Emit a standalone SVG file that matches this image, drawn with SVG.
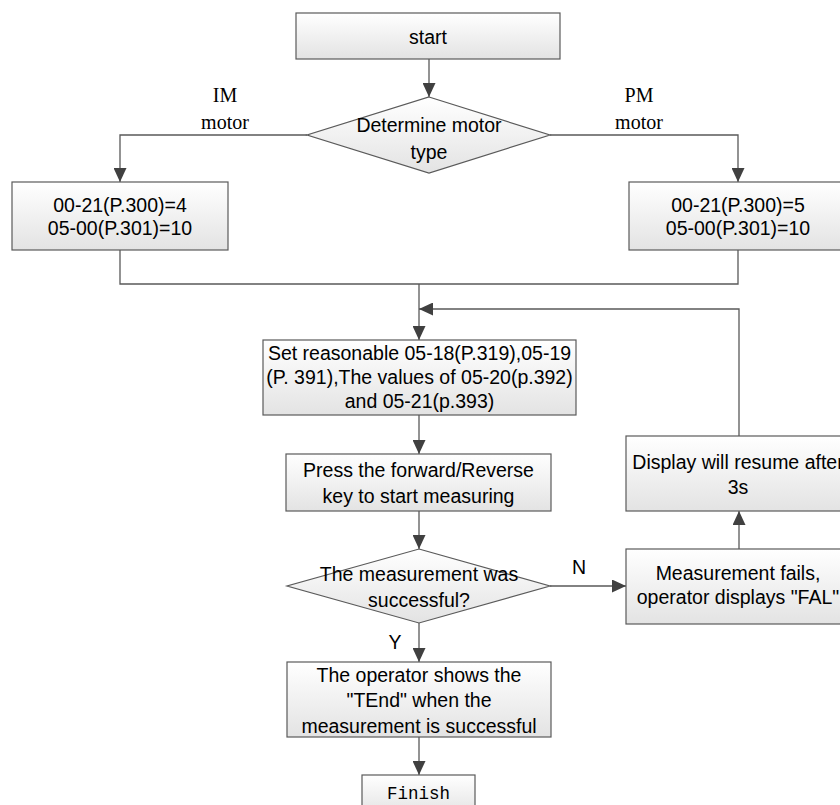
<svg xmlns="http://www.w3.org/2000/svg" width="840" height="805" viewBox="0 0 840 805">
<defs>
<linearGradient id="g" x1="0" y1="0" x2="0" y2="1">
<stop offset="0" stop-color="#ffffff"/>
<stop offset="1" stop-color="#e3e3e3"/>
</linearGradient>
<marker id="ah" markerUnits="userSpaceOnUse" markerWidth="14" markerHeight="13" refX="14" refY="6.5" orient="auto">
<path d="M0,0 L14,6.5 L0,13 z" fill="#404040"/>
</marker>
<style>
.box{fill:url(#g);stroke:#5a5a5a;stroke-width:1.2}
.t{font-family:"Liberation Sans",Arial,sans-serif;font-size:19.5px;fill:#000;text-anchor:middle}
.s{font-family:"Liberation Serif","Times New Roman",serif;font-size:20px;fill:#000;text-anchor:middle}
.m{font-family:"Liberation Mono","Courier New",monospace;font-size:17.5px;fill:#000;text-anchor:middle}
.c{fill:none;stroke:#595959;stroke-width:1.3}
.a{marker-end:url(#ah)}
</style>
</defs>
<rect width="840" height="805" fill="#fff"/>
<g id="connectors">
<path class="c a" d="M429,59 V97"/>
<path class="c a" d="M307,135 H120 V182"/>
<path class="c a" d="M550,135 H738 V182"/>
<path class="c" d="M120,250 V284 H738 V250"/>
<path class="c a" d="M419,284 V340"/>
<path class="c a" d="M419,415 V454"/>
<path class="c a" d="M419,511 V549"/>
<path class="c a" d="M550,586 H626"/>
<path class="c a" d="M739,549 V511"/>
<path class="c a" d="M739,436 V309 H419"/>
<path class="c a" d="M419,623 V662"/>
<path class="c a" d="M419,737 V775"/>
<text class="t" x="579" y="574">N</text>
<text class="t" x="395" y="649">Y</text>
<text class="s" x="225" y="102">IM</text>
<text class="s" x="225" y="129">motor</text>
<text class="s" x="639" y="102">PM</text>
<text class="s" x="639" y="129">motor</text>
</g>
<g id="start">
<rect class="box" x="296" y="13" width="264" height="46"/>
<text class="t" x="428" y="44">start</text>
</g>
<g id="motor-type">
<polygon class="box" points="429,97 550,135 429,173 307,135"/>
<text class="t" x="429" y="132">Determine motor</text>
<text class="t" x="429" y="159">type</text>
</g>
<g id="im-params">
<rect class="box" x="12" y="182" width="216" height="68"/>
<text class="t" x="120" y="212">00-21(P.300)=4</text>
<text class="t" x="120" y="235">05-00(P.301)=10</text>
</g>
<g id="pm-params">
<rect class="box" x="629" y="182" width="218" height="68"/>
<text class="t" x="738" y="212">00-21(P.300)=5</text>
<text class="t" x="738" y="235">05-00(P.301)=10</text>
</g>
<g id="set-values">
<rect class="box" x="263" y="340" width="313" height="75"/>
<text class="t" x="419.5" y="360">Set reasonable 05-18(P.319),05-19</text>
<text class="t" x="419.5" y="384">(P. 391),The values of 05-20(p.392)</text>
<text class="t" x="419.5" y="408">and 05-21(p.393)</text>
</g>
<g id="press-key">
<rect class="box" x="286" y="454" width="265" height="57"/>
<text class="t" x="418.5" y="477">Press the forward/Reverse</text>
<text class="t" x="418.5" y="503">key to start measuring</text>
</g>
<g id="measure-ok">
<polygon class="box" points="419,549 550,586 419,623 287,586"/>
<text class="t" x="419" y="581">The measurement was</text>
<text class="t" x="419" y="607">successful?</text>
</g>
<g id="fail">
<rect class="box" x="626" y="549" width="224" height="75"/>
<text class="t" x="738" y="580">Measurement fails,</text>
<text class="t" x="738" y="604">operator displays "FAL"</text>
</g>
<g id="display-resume">
<rect class="box" x="626" y="436" width="224" height="75"/>
<text class="t" x="738" y="469">Display will resume after</text>
<text class="t" x="738" y="494">3s</text>
</g>
<g id="tend">
<rect class="box" x="287" y="662" width="264" height="75"/>
<text class="t" x="419" y="682">The operator shows the</text>
<text class="t" x="419" y="707">"TEnd" when the</text>
<text class="t" x="419" y="733">measurement is successful</text>
</g>
<g id="finish">
<rect class="box" x="362" y="775" width="113" height="40"/>
<text class="m" x="418.5" y="799">Finish</text>
</g>
</svg>
